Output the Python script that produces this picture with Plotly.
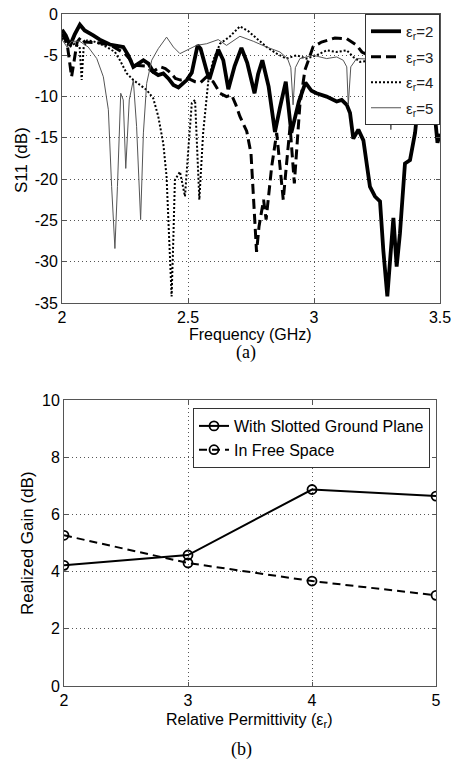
import plotly.graph_objects as go

W, H = 454, 762

# ---------------- data: (a) S11 vs frequency ----------------
S11_ER2 = [(2.0,-1.9),(2.015,-2.6),(2.032,-3.8),(2.05,-2.5),(2.071,-1.3),(2.09,-2.0),(2.124,-2.6),
           (2.15,-3.1),(2.19,-3.7),(2.22,-3.9),(2.243,-4.0),(2.263,-5.0),(2.283,-6.4),(2.303,-6.0),
           (2.323,-5.6),(2.343,-6.0),(2.362,-7.0),(2.382,-7.4),(2.402,-7.2),(2.422,-7.8),(2.442,-8.6),
           (2.462,-8.9),(2.481,-8.4),(2.495,-8.0),(2.515,-7.1),(2.528,-5.0),(2.538,-3.8),(2.55,-4.2),
           (2.561,-5.6),(2.575,-7.0),(2.585,-7.9),(2.60,-6.3),(2.62,-4.3),(2.64,-5.6),(2.66,-9.1),
           (2.685,-6.3),(2.712,-4.1),(2.735,-5.9),(2.764,-9.6),(2.778,-7.3),(2.795,-5.6),(2.82,-8.8),
           (2.845,-14.3),(2.865,-11.3),(2.888,-8.2),(2.91,-14.4),(2.94,-10.6),(2.966,-8.3),(2.99,-9.3),
           (3.01,-9.6),(3.05,-10.0),(3.09,-10.6),(3.11,-10.4),(3.13,-11.0),(3.143,-12.0),(3.156,-15.1),
           (3.176,-14.0),(3.196,-15.3),(3.21,-18.5),(3.222,-20.9),(3.242,-22.1),(3.262,-22.7),
           (3.275,-28.6),(3.291,-34.2),(3.302,-29.8),(3.315,-24.7),(3.328,-30.6),(3.341,-26.6),
           (3.361,-18.1),(3.381,-17.7),(3.401,-14.4),(3.421,-8.4),(3.44,-3.0),(3.46,-6.0),
           (3.48,-12.0),(3.49,-15.6),(3.5,-14.5)]

S11_ER3 = [(2.0,-2.4),(2.02,-3.5),(2.038,-7.6),(2.06,-3.4),(2.075,-2.8),(2.09,-3.4),(2.15,-3.5),
           (2.2,-3.9),(2.25,-4.8),(2.29,-6.2),(2.33,-6.3),(2.36,-7.0),(2.39,-6.4),(2.41,-6.6),
           (2.43,-7.1),(2.45,-7.8),(2.47,-8.0),(2.5,-7.8),(2.528,-8.2),(2.55,-8.3),(2.574,-7.6),
           (2.6,-8.2),(2.627,-9.6),(2.653,-10.0),(2.673,-9.8),(2.69,-11.0),(2.706,-12.4),
           (2.733,-14.2),(2.75,-16.9),(2.762,-24.1),(2.772,-28.8),(2.782,-25.7),(2.8,-22.5),
           (2.81,-24.9),(2.832,-18.5),(2.852,-14.4),(2.865,-18.5),(2.878,-22.5),(2.89,-18.5),
           (2.905,-13.6),(2.922,-20.5),(2.944,-11.0),(2.964,-6.8),(2.996,-4.0),(3.03,-3.4),
           (3.083,-2.9),(3.13,-3.0),(3.17,-3.8),(3.19,-4.6),(3.25,-5.5),(3.35,-6.0),(3.45,-6.0),
           (3.5,-6.0)]

S11_ER4 = [(2.0,-2.9),(2.03,-4.0),(2.05,-3.6),(2.07,-4.0),(2.078,-8.0),(2.086,-4.0),(2.1,-3.2),
           (2.124,-3.3),(2.15,-3.6),(2.177,-4.0),(2.21,-4.6),(2.23,-5.6),(2.257,-7.2),(2.283,-8.0),
           (2.31,-8.6),(2.336,-9.2),(2.362,-10.2),(2.382,-12.4),(2.402,-15.7),(2.415,-19.7),
           (2.425,-27.0),(2.435,-34.2),(2.442,-27.0),(2.448,-20.1),(2.468,-19.1),(2.488,-22.1),
           (2.501,-16.5),(2.515,-10.8),(2.528,-10.4),(2.537,-16.0),(2.545,-22.5),(2.56,-14.4),
           (2.581,-8.0),(2.6,-5.6),(2.627,-3.6),(2.667,-2.7),(2.706,-1.5),(2.74,-2.1),(2.772,-2.9),
           (2.812,-4.0),(2.852,-4.8),(2.89,-5.4),(2.931,-5.0),(2.97,-5.4),(3.01,-5.0),(3.05,-4.4),
           (3.09,-4.6),(3.13,-4.4),(3.156,-5.2),(3.183,-5.8),(3.25,-5.5),(3.35,-5.0),(3.45,-5.0),
           (3.5,-5.0)]

S11_ER5 = [(2.0,-3.1),(2.02,-4.0),(2.038,-3.3),(2.07,-3.3),(2.104,-4.0),(2.138,-5.4),(2.164,-7.6),
           (2.184,-11.6),(2.197,-20.9),(2.21,-28.4),(2.22,-20.9),(2.233,-9.6),(2.243,-10.4),
           (2.253,-18.7),(2.267,-10.4),(2.283,-8.0),(2.296,-13.6),(2.312,-24.9),(2.323,-14.4),
           (2.336,-8.4),(2.356,-5.6),(2.382,-4.2),(2.415,-2.8),(2.442,-4.0),(2.468,-4.8),
           (2.501,-4.3),(2.534,-3.8),(2.574,-3.6),(2.62,-3.1),(2.653,-3.8),(2.706,-2.7),
           (2.759,-3.3),(2.812,-4.0),(2.865,-4.6),(2.895,-5.4),(2.908,-6.5),(2.917,-11.0),
           (2.926,-6.5),(2.944,-5.4),(2.997,-5.0),(3.05,-5.4),(3.09,-5.2),(3.116,-5.6),(3.13,-6.4),
           (3.136,-11.0),(3.146,-6.4),(3.169,-5.4),(3.25,-5.5),(3.29,-7.0),(3.305,-14.0),
           (3.32,-7.0),(3.4,-5.0),(3.5,-5.0)]

S11_NAMES = ["ε<sub>r</sub>=2", "ε<sub>r</sub>=3", "ε<sub>r</sub>=4", "ε<sub>r</sub>=5"]

FREQ_TICKS = [2, 2.5, 3, 3.5]
FREQ_TICK_LABELS = ["2", "2.5", "3", "3.5"]
S11_TICKS = [0, -5, -10, -15, -20, -25, -30, -35]
S11_TICK_LABELS = ["0", "-5", "-10", "-15", "-20", "-25", "-30", "-35"]

# ---------------- data: (b) realized gain ----------------
PERMITTIVITY = [2, 3, 4, 5]
GAIN_SLOTTED = [4.22, 4.58, 6.87, 6.64]
GAIN_FREE = [5.27, 4.30, 3.67, 3.17]
GAIN_NAMES = ["With Slotted Ground Plane", "In Free Space"]
GAIN_TICKS = [0, 2, 4, 6, 8, 10]
GAIN_TICK_LABELS = ["0", "2", "4", "6", "8", "10"]
PERM_TICK_LABELS = ["2", "3", "4", "5"]

# ---------------- figure ----------------
def px_x(p):
    return p / W

def px_y(p):
    return 1 - p / H

SANS = "Liberation Sans, Arial, sans-serif"
SERIF = "Liberation Serif, Times New Roman, serif"

fig = go.Figure()

styles = [
    dict(color="black", width=3.8, dash="solid"),
    dict(color="black", width=3, dash="10px,5px"),
    dict(color="black", width=2, dash="2px,2px"),
    dict(color="#555555", width=1, dash="solid"),
]
for i, (series, name) in enumerate(zip([S11_ER2, S11_ER3, S11_ER4, S11_ER5], S11_NAMES)):
    fig.add_trace(go.Scatter(
        x=[p[0] for p in series], y=[p[1] for p in series],
        mode="lines", name=name, line=styles[i],
        xaxis="x", yaxis="y", legend="legend", legendgroup=f"a{i}",
    ))

fig.add_trace(go.Scatter(
    x=PERMITTIVITY, y=GAIN_SLOTTED, mode="lines+markers", name=GAIN_NAMES[0],
    line=dict(color="black", width=2),
    marker=dict(symbol="circle-open", size=9, color="black", line=dict(width=1.8)),
    xaxis="x2", yaxis="y2", legend="legend2",
))
fig.add_trace(go.Scatter(
    x=PERMITTIVITY, y=GAIN_FREE, mode="lines+markers", name=GAIN_NAMES[1],
    line=dict(color="black", width=2, dash="8px,5px"),
    marker=dict(symbol="circle-open", size=9, color="black", line=dict(width=1.8)),
    xaxis="x2", yaxis="y2", legend="legend2",
))

axis_common = dict(
    showline=True, linecolor="#555555", linewidth=1, mirror="ticks",
    ticks="inside", ticklen=4, tickcolor="#555555",
    showgrid=True, gridcolor="#555555", griddash="1px,3px", gridwidth=1,
    zeroline=False, automargin=False,
    tickfont=dict(family=SANS, size=16, color="black"),
)

fig.update_layout(
    width=W, height=H,
    margin=dict(l=0, r=0, t=0, b=0, autoexpand=False),
    paper_bgcolor="white", plot_bgcolor="white",
    xaxis=dict(domain=[px_x(62), px_x(440)], range=[2, 3.5],
               tickvals=FREQ_TICKS, ticktext=FREQ_TICK_LABELS, anchor="y", **axis_common),
    yaxis=dict(domain=[px_y(303), px_y(14)], range=[-35, 0],
               tickvals=S11_TICKS, ticktext=S11_TICK_LABELS, anchor="x", **axis_common),
    xaxis2=dict(domain=[px_x(64), px_x(436)], range=[2, 5],
                tickvals=PERMITTIVITY, ticktext=PERM_TICK_LABELS, anchor="y2", **axis_common),
    yaxis2=dict(domain=[px_y(686), px_y(400)], range=[0, 10],
                tickvals=GAIN_TICKS, ticktext=GAIN_TICK_LABELS, anchor="x2", **axis_common),
    legend=dict(x=px_x(440), y=px_y(14), xanchor="right", yanchor="top",
                bgcolor="white", bordercolor="#333333", borderwidth=1,
                font=dict(family=SANS, size=15, color="#222222"),
                tracegroupgap=3, itemwidth=30),
    legend2=dict(x=px_x(430), y=px_y(408), xanchor="right", yanchor="top",
                 bgcolor="white", bordercolor="#333333", borderwidth=1,
                 font=dict(family=SANS, size=16, color="black"),
                 tracegroupgap=0, itemwidth=30),
    showlegend=True,
)

annots = [
    dict(text="S11 (dB)", x=px_x(21), y=px_y(160), textangle=-90, size=17, fam=SANS),
    dict(text="Frequency (GHz)", x=px_x(251), y=px_y(334), textangle=0, size=16, fam=SANS),
    dict(text="(a)", x=px_x(246), y=px_y(353), textangle=0, size=18, fam=SERIF),
    dict(text="Realized Gain (dB)", x=px_x(27), y=px_y(543), textangle=-90, size=17, fam=SANS),
    dict(text="Relative Permittivity (ε<sub>r</sub>)", x=px_x(249), y=px_y(720), textangle=0, size=16, fam=SANS),
    dict(text="(b)", x=px_x(241), y=px_y(749), textangle=0, size=18, fam=SERIF),
]
for a in annots:
    fig.add_annotation(text=a["text"], x=a["x"], y=a["y"], xref="paper", yref="paper",
                       xanchor="center", yanchor="middle", textangle=a["textangle"],
                       showarrow=False, font=dict(family=a["fam"], size=a["size"], color="black"))

fig.write_html("out.html")
